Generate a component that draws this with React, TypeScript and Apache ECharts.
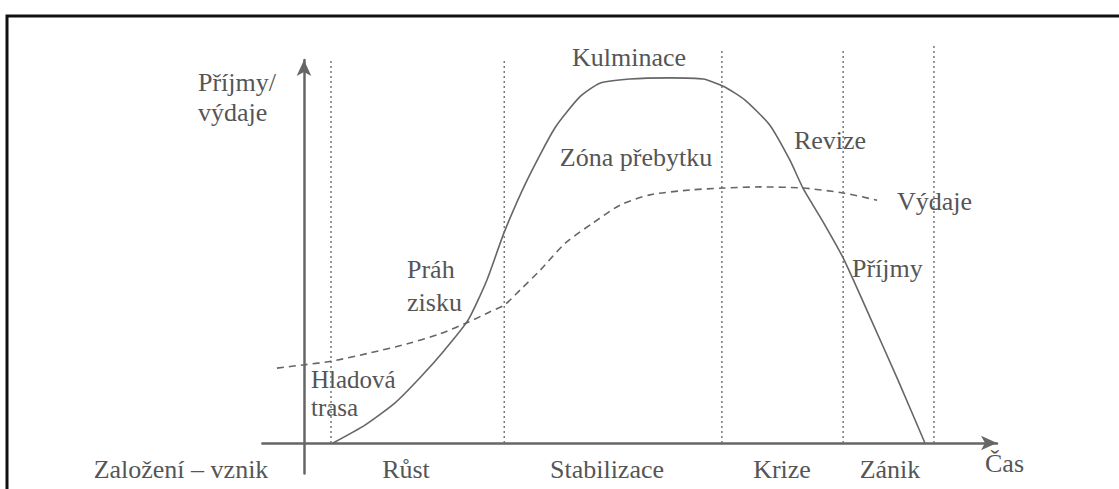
import React, { useEffect, useRef } from "react";
import * as echarts from "echarts";

// Time axis (0 = founding) and value axis (relative amount)
const revenueT = [4.2, 8.8, 13.1, 16.7, 20.3, 23.7, 26.4, 28.9, 32.2, 36.2, 39.8, 42.7, 47.0, 52.8, 57.6, 60.5, 63.6, 67.2, 70.1, 72.0, 74.9, 77.8, 81.7, 85.7, 89.6];
const revenueV = [0, 4.7, 10.5, 17.1, 24.5, 32.4, 42.9, 55.5, 69.2, 82.9, 91.1, 94.7, 95.8, 96.1, 95.8, 93.9, 90.3, 83.7, 74.5, 67.1, 58.2, 48.7, 33.0, 16.6, 0];
const expenseT = [-3.9, 0.1, 3.9, 9.5, 15.3, 19.6, 23.7, 26.8, 28.9, 31.2, 34.1, 37.7, 41.7, 45.6, 49.9, 55.7, 60.5, 65.8, 72.0, 77.8, 82.7];
const expenseV = [19.7, 20.6, 21.5, 23.7, 26.3, 28.7, 31.8, 34.5, 36.3, 40.3, 45.5, 52.6, 57.9, 62.6, 65.3, 66.6, 67.1, 67.4, 67.1, 65.8, 63.9];
// Phase boundaries (dotted verticals): time and top value
const boundaryT = [3.9, 28.9, 60.3, 77.8, 90.9];
const boundaryTop = [100.8, 101.3, 103.9, 103.9, 105.3];

const TEXT = "#555";
const FONT = "'Liberation Serif', 'Times New Roman', serif";

const labels: { text: string; x: number; y: number; align: "left" | "center" }[] = [
  { text: "Příjmy/", x: 198, y: 82, align: "left" },
  { text: "výdaje", x: 198, y: 112, align: "left" },
  { text: "Kulminace", x: 629, y: 57, align: "center" },
  { text: "Zóna přebytku", x: 636, y: 157, align: "center" },
  { text: "Revize", x: 830, y: 140, align: "center" },
  { text: "Výdaje", x: 897, y: 201, align: "left" },
  { text: "Příjmy", x: 852, y: 268, align: "left" },
  { text: "Práh", x: 407, y: 269, align: "left" },
  { text: "zisku", x: 407, y: 302, align: "left" },
  { text: "Hladová", x: 311, y: 379, align: "left" },
  { text: "trasa", x: 311, y: 407, align: "left" },
  { text: "Založení – vznik", x: 181, y: 469, align: "center" },
  { text: "Růst", x: 406, y: 469, align: "center" },
  { text: "Stabilizace", x: 607, y: 469, align: "center" },
  { text: "Krize", x: 782, y: 469, align: "center" },
  { text: "Zánik", x: 890, y: 469, align: "center" },
  { text: "Čas", x: 985, y: 463, align: "left" },
];

export default function App() {
  const ref = useRef<HTMLDivElement>(null);
  useEffect(() => {
    if (!ref.current) return;
    const chart = echarts.init(ref.current, null, { renderer: "svg" });
    const series: any[] = [];
    boundaryT.forEach((t, i) => {
      series.push({
        type: "line",
        data: [[t, 0], [t, boundaryTop[i]]],
        symbol: "none",
        clip: false,
        silent: true,
        lineStyle: { color: "#777", width: 1.5, type: [2, 3] },
        z: 1,
      });
    });
    series.push({
      name: "Výdaje",
      type: "line",
      data: expenseT.map((t, i) => [t, expenseV[i]]),
      smooth: 0.25,
      symbol: "none",
      clip: false,
      lineStyle: { color: "#666", width: 1.6, type: [7, 5] },
      z: 3,
    });
    series.push({
      name: "Příjmy",
      type: "line",
      data: revenueT.map((t, i) => [t, revenueV[i]]),
      smooth: 0.2,
      symbol: "none",
      clip: false,
      lineStyle: { color: "#666", width: 1.6 },
      z: 4,
    });
    chart.setOption({
      animation: false,
      backgroundColor: "#fff",
      grid: { left: 262.4, right: 122, top: 60, bottom: 15.6 },
      xAxis: {
        type: "value",
        min: -6,
        max: 100,
        axisLine: {
          onZero: true,
          symbol: ["none", "arrow"],
          symbolSize: [11, 16],
          lineStyle: { color: "#666", width: 2.5 },
        },
        axisTick: { show: false },
        axisLabel: { show: false },
        splitLine: { show: false },
      },
      yAxis: {
        type: "value",
        min: -8,
        max: 100.8,
        axisLine: {
          onZero: true,
          symbol: ["none", "arrow"],
          symbolSize: [11, 16],
          lineStyle: { color: "#666", width: 2.5 },
        },
        axisTick: { show: false },
        axisLabel: { show: false },
        splitLine: { show: false },
      },
      graphic: [
        {
          type: "polyline",
          shape: { points: [[7, 500], [7, 16], [1125, 16]] },
          style: { stroke: "#111", lineWidth: 3, fill: "none" },
          silent: true,
        },
        ...labels.map((l) => ({
          type: "text",
          x: l.x,
          y: l.y,
          silent: true,
          style: {
            text: l.text,
            fill: TEXT,
            font: `${l.text === "Hladová" || l.text === "trasa" ? 25 : 26}px ${FONT}`,
            textAlign: l.align,
            textVerticalAlign: "middle",
          },
        })),
      ],
      series,
    });
    return () => chart.dispose();
  }, []);
  return (
    <div
      ref={ref}
      style={{ position: "fixed", left: 0, top: 0, width: 1119, height: 489, background: "#fff" }}
    />
  );
}
